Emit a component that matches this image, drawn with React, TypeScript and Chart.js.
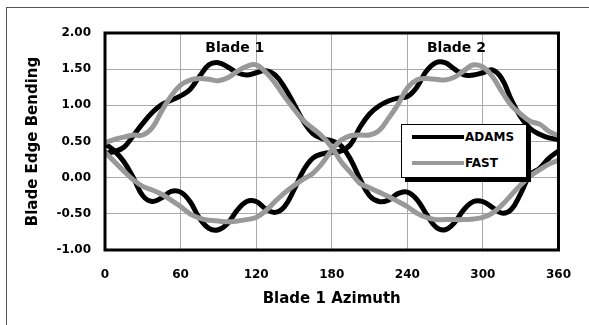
import React, { useEffect, useRef } from "react";
import { Chart, registerables } from "chart.js";

Chart.register(...registerables);

const AZIMUTH = [
  0, 7.5, 15, 22.5, 30, 37.5, 45, 52.5, 60, 67.5, 75, 82.5, 90, 97.5, 105, 112.5, 120,
  127.5, 135, 142.5, 150, 157.5, 165, 172.5, 180, 187.5, 195, 202.5, 210, 217.5, 225,
  232.5, 240, 247.5, 255, 262.5, 270, 277.5, 285, 292.5, 300, 307.5, 315, 322.5, 330,
  337.5, 345, 352.5, 360,
];

const ADAMS_BLADE1 = [
  0.34, 0.36, 0.42, 0.58, 0.75, 0.9, 1.01, 1.07, 1.13, 1.22, 1.4, 1.56, 1.59, 1.53, 1.45,
  1.42, 1.45, 1.48, 1.42, 1.25, 1.02, 0.78, 0.61, 0.54, 0.51, 0.44, 0.25, -0.02, -0.25,
  -0.33, -0.31, -0.22, -0.2, -0.3, -0.5, -0.68, -0.72, -0.62, -0.44, -0.33, -0.33, -0.41,
  -0.49, -0.44, -0.22, 0.04, 0.13, 0.27, 0.37,
];

const ADAMS_BLADE2 = [
  0.47, 0.37, 0.22, 0.0, -0.25, -0.33, -0.28, -0.19, -0.2, -0.33, -0.56, -0.7, -0.72,
  -0.63, -0.45, -0.33, -0.33, -0.43, -0.48, -0.4, -0.17, 0.1, 0.27, 0.33, 0.35, 0.37, 0.46,
  0.7, 0.88, 0.99, 1.06, 1.1, 1.12, 1.25, 1.47, 1.59, 1.59, 1.5, 1.42, 1.42, 1.45, 1.49,
  1.37, 1.08, 0.84, 0.68, 0.6, 0.55, 0.53,
];

const FAST_BLADE1 = [
  0.48, 0.53, 0.56, 0.59, 0.59, 0.69, 0.92, 1.13, 1.28, 1.35, 1.37, 1.36, 1.34, 1.38, 1.47,
  1.54, 1.56, 1.46, 1.31, 1.12, 0.95, 0.79, 0.68, 0.57, 0.42, 0.22, 0.07, -0.08, -0.14,
  -0.2, -0.26, -0.33, -0.4, -0.49, -0.55, -0.58, -0.58, -0.58, -0.58, -0.57, -0.55, -0.49,
  -0.38, -0.24, -0.1, 0.02, 0.11, 0.19, 0.24,
];

const FAST_BLADE2 = [
  0.35, 0.22, 0.09, -0.03, -0.12, -0.17, -0.23, -0.31, -0.4, -0.5, -0.56, -0.59, -0.6,
  -0.61, -0.6, -0.58, -0.55, -0.46, -0.33, -0.21, -0.11, -0.02, 0.06, 0.2, 0.38, 0.52, 0.58,
  0.59, 0.59, 0.65, 0.82, 1.01, 1.24, 1.35, 1.37, 1.36, 1.35, 1.39, 1.48, 1.56, 1.53, 1.4,
  1.19, 1.0, 0.88, 0.78, 0.74, 0.64, 0.58,
];

const X_TICKS = [0, 60, 120, 180, 240, 300, 360];
const Y_TICKS = [-1, -0.5, 0, 0.5, 1, 1.5, 2];

const BLADE_LABELS = [
  { text: "Blade 1", x: 103, y: 1.79 },
  { text: "Blade 2", x: 279, y: 1.79 },
];

const LEGEND = [
  { label: "ADAMS", color: "#000000" },
  { label: "FAST", color: "#999999" },
];

const FONT = '"DejaVu Sans", "Liberation Sans", Arial, sans-serif';

const toPoints = (ys: number[]) => AZIMUTH.map((x, i) => ({ x, y: ys[i] }));

export default function App() {
  const canvasRef = useRef<HTMLCanvasElement | null>(null);

  useEffect(() => {
    if (!canvasRef.current) return;

    const borderPlugin = {
      id: "plotBorder",
      afterDraw(chart: any) {
        const { ctx, chartArea } = chart;
        ctx.save();
        ctx.strokeStyle = "#000";
        ctx.lineWidth = 3;
        ctx.strokeRect(
          chartArea.left,
          chartArea.top,
          chartArea.right - chartArea.left,
          chartArea.bottom - chartArea.top
        );
        ctx.restore();
      },
    };

    const bladeLabelPlugin = {
      id: "bladeLabels",
      afterDatasetsDraw(chart: any) {
        const { ctx, scales } = chart;
        ctx.save();
        ctx.font = `bold 14px ${FONT}`;
        ctx.fillStyle = "#000";
        ctx.textAlign = "center";
        ctx.textBaseline = "middle";
        BLADE_LABELS.forEach((l) => {
          ctx.fillText(l.text, scales.x.getPixelForValue(l.x), scales.y.getPixelForValue(l.y));
        });
        ctx.restore();
      },
    };

    const lineStyle = (color: string) => ({
      borderColor: color,
      backgroundColor: color,
      borderWidth: 5,
      pointRadius: 0,
      tension: 0.4,
      fill: false,
    });

    const chart = new Chart(canvasRef.current, {
      type: "line",
      data: {
        datasets: [
          { label: "ADAMS", data: toPoints(ADAMS_BLADE1), order: 2, ...lineStyle("#000000") },
          { label: "ADAMS blade 2", data: toPoints(ADAMS_BLADE2), order: 2, ...lineStyle("#000000") },
          { label: "FAST", data: toPoints(FAST_BLADE1), order: 1, ...lineStyle("#999999") },
          { label: "FAST blade 2", data: toPoints(FAST_BLADE2), order: 1, ...lineStyle("#999999") },
        ],
      },
      options: {
        animation: false,
        responsive: false,
        maintainAspectRatio: false,
        layout: { padding: { left: 0, top: 33, right: 22, bottom: 0 } },
        plugins: {
          legend: { display: false },
          tooltip: { enabled: false },
        },
        scales: {
          x: {
            type: "linear",
            min: 0,
            max: 360,
            afterFit(scale: any) {
              scale.height = 75;
            },
            afterBuildTicks(scale: any) {
              scale.ticks = X_TICKS.map((v) => ({ value: v }));
            },
            grid: { color: "#aaaaaa", lineWidth: 1, drawTicks: false },
            border: { display: false },
            ticks: {
              padding: 18,
              color: "#000",
              font: { family: FONT, size: 12, weight: "bold" },
              callback: (v: any) => String(v),
            },
            title: {
              display: true,
              text: "Blade 1 Azimuth",
              color: "#000",
              font: { family: FONT, size: 15, weight: "bold" },
              padding: { top: 0, bottom: 17 },
            },
          },
          y: {
            type: "linear",
            min: -1,
            max: 2,
            afterFit(scale: any) {
              scale.width = 105;
            },
            afterBuildTicks(scale: any) {
              scale.ticks = Y_TICKS.map((v) => ({ value: v }));
            },
            grid: { color: "#aaaaaa", lineWidth: 1, drawTicks: false },
            border: { display: false },
            ticks: {
              padding: 14,
              color: "#000",
              font: { family: FONT, size: 12, weight: "bold" },
              callback: (v: any) => Number(v).toFixed(2),
            },
            title: {
              display: true,
              text: "Blade Edge Bending",
              color: "#000",
              font: { family: FONT, size: 15, weight: "bold" },
              padding: { top: 24, bottom: 0 },
            },
          },
        },
      },
      plugins: [bladeLabelPlugin, borderPlugin],
    } as any);

    return () => chart.destroy();
  }, []);

  return (
    <div
      style={{
        position: "fixed",
        left: 0,
        top: 0,
        width: 589,
        height: 325,
        overflow: "hidden",
        background: "#fff",
      }}
    >
      <div
        style={{
          position: "absolute",
          left: 6,
          top: 7,
          width: 640,
          height: 400,
          borderLeft: "1px solid #555",
          borderTop: "1px solid #555",
        }}
      />
      <canvas ref={canvasRef} width={589} height={325} style={{ position: "absolute", left: 0, top: 0 }} />
      <div
        style={{
          position: "absolute",
          left: 405,
          top: 128,
          width: 126,
          height: 54,
          background: "#000",
        }}
      />
      <div
        style={{
          position: "absolute",
          left: 401,
          top: 124,
          width: 124,
          height: 52,
          background: "#fff",
          border: "1px solid #000",
          fontFamily: FONT,
          fontWeight: "bold",
          fontSize: 12,
        }}
      >
        {LEGEND.map((item, i) => (
          <div
            key={item.label}
            style={{
              position: "absolute",
              left: 10,
              top: 4 + i * 26,
              height: 16,
              display: "flex",
              alignItems: "center",
            }}
          >
            <div style={{ width: 52, height: 4, background: item.color }} />
            <span style={{ marginLeft: 1, lineHeight: "16px" }}>{item.label}</span>
          </div>
        ))}
      </div>
    </div>
  );
}
